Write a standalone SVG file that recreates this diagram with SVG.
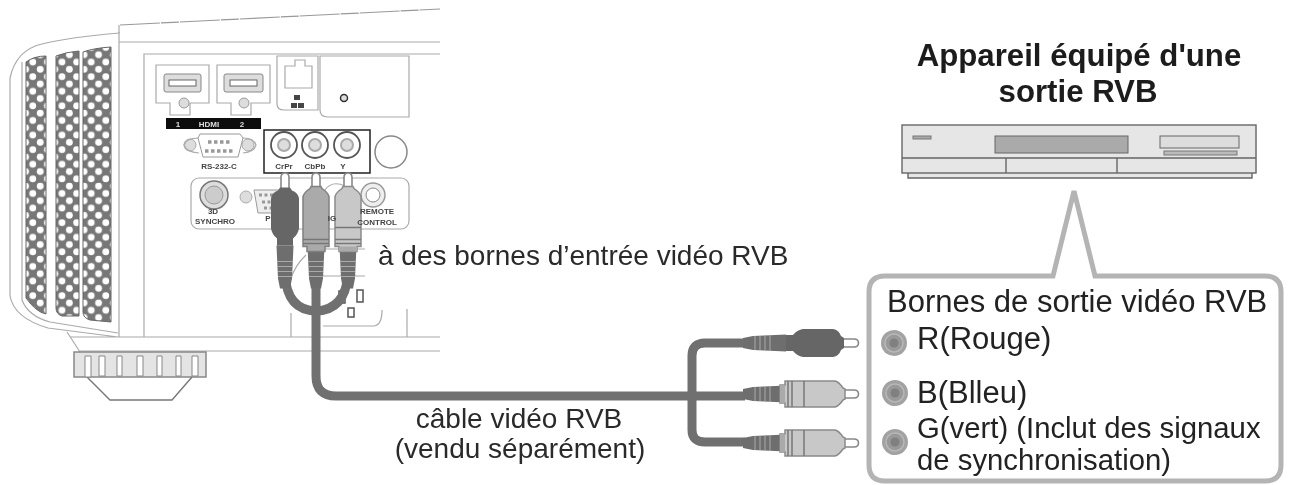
<svg xmlns="http://www.w3.org/2000/svg" width="1290" height="485" viewBox="0 0 1290 485">
<style>
text{font-family:"Liberation Sans",Arial,sans-serif;fill:#222}
.t{font-size:31px}
.m{font-size:28px;fill:#2a2a2a}
.n{font-size:29.300px}
.h{font-size:31.200px;font-weight:bold;text-anchor:middle;fill:#1c1c1c}
.s{font-size:8px;font-weight:bold;fill:#444;text-anchor:middle}
.l{fill:none;stroke:#aaa;stroke-width:1.200}
.d{fill:none;stroke:#777;stroke-width:1.400}
.cab{fill:none;stroke:#707070;stroke-width:9}
.dev{fill:#e6e6e6;stroke:#666;stroke-width:1.400}
</style>
<defs>
<filter id="b" x="-5%" y="-5%" width="110%" height="110%"><feGaussianBlur stdDeviation="0.6"/></filter>
<pattern id="hex" width="14.6" height="14.6" patternUnits="userSpaceOnUse">
<rect width="14.6" height="14.6" fill="#777"/>
<circle cx="3.6" cy="3.6" r="3.4" fill="#fff"/><circle cx="11" cy="10.9" r="3.4" fill="#fff"/>
</pattern>
<g id="jack"><circle r="13" fill="#a2a2a2"/><circle r="9" fill="#999" stroke="#b8b8b8" stroke-width="1.500"/><circle r="4.500" fill="#808080"/></g>
<g id="rca"><path d="M0 -5 L10 -7 L43 -8.500 L43 8.500 L10 7 L0 5Z" fill="#6e6e6e"/>
<path d="M12 -7V7M17 -7V7M22 -7V7M27 -8V8" stroke="#aaa" stroke-width="1"/>
<path d="M99 -4H111Q115.500 -4 115.500 0Q115.500 4 111 4H99Z" fill="#fff" stroke="#888" stroke-width="1.600"/></g>
<g id="body"><path d="M37 -9H42V-13H92Q96 -12 100 -6L102 -5V5L100 6Q96 12 92 13H42V9H37Z" fill="#c8c8c8" stroke="#8a8a8a" stroke-width="1.500"/><path d="M37 -9H42V9H37Z" fill="#aaa"/><path d="M45 -13V13M49 -13V13M61 -13V13" stroke="#777" stroke-width="1.500"/></g>
<g id="bodyd"><path d="M37 -9H42V-13H92Q96 -12 100 -6L102 -5V5L100 6Q96 12 92 13H42V9H37Z" fill="#aaa" stroke="#808080" stroke-width="1.500"/><path d="M45 -13V13M49 -13V13" stroke="#777" stroke-width="1.500"/></g>
<g id="black"><path d="M43 -8H50Q54 -13 60 -14H90Q96 -13 98 -7L101 -5V5L98 7Q96 13 90 14H60Q54 13 50 8H43Z" fill="#666"/></g>
</defs>

<g id="projector" filter="url(#b)">
<path d="M120 25L440 9" fill="none" stroke="#999" stroke-width="1.200" stroke-dasharray="40 1 18 1"/>
<path class="l" d="M120 33Q70 37 42 44Q16 50 10 78V296Q14 318 48 328L118 337M119 25V337M119 42H440M144 337V54H440M70 337H440M80 351H440"/>
<path class="l" d="M22 62V300Q28 316 50 322L118 333"/>
<path class="l" d="M67 332L80 352"/>
<path d="M26 62Q34 56 46 56V314Q36 312 26 298Z" fill="url(#hex)" stroke="#666"/>
<path d="M56 56Q66 52 79 51V316H62Q56 314 56 308Z" fill="url(#hex)" stroke="#666"/>
<path d="M83 52Q94 48 111 47V322L90 320Q83 318 83 312Z" fill="url(#hex)" stroke="#666"/>
<g id="foot">
<rect x="74" y="352" width="132" height="25" fill="#e4e4e4" stroke="#888" stroke-width="1.500"/>
<path class="d" d="M87 377L110 400H172L192 377"/>
<path d="M85 356h6v21h-6zM99 356h6v20h-6zM117 356h5v20h-5zM137 356h6v20h-6zM157 356h5v20h-5zM176 356h5v20h-5zM192 356h6v20h-6z" fill="#fff" stroke="#888"/>
</g>
<g id="hdmi1"><path class="l" d="M156 65H209V103H190V115H170V103H156Z"/><rect x="164" y="74" width="37" height="18" rx="2" fill="#ddd" stroke="#888"/><rect x="169" y="80" width="27" height="6" fill="#fff" stroke="#666"/><circle cx="184" cy="103" r="5" fill="#ddd" stroke="#999"/></g>
<g id="hdmi2"><path class="l" d="M217 65H270V103H251V115H231V103H217Z"/><rect x="224" y="74" width="39" height="18" rx="2" fill="#ddd" stroke="#888"/><rect x="230" y="80" width="27" height="6" fill="#fff" stroke="#666"/><circle cx="244" cy="103" r="5" fill="#ddd" stroke="#999"/></g>
<rect x="166" y="118" width="95" height="11" fill="#111"/>
<text x="178" y="126.500" class="s" style="fill:#ddd">1</text><text x="209" y="126.500" class="s" style="fill:#ddd">HDMI</text><text x="242" y="126.500" class="s" style="fill:#ddd">2</text>
<g id="lan"><path class="l" d="M277 56H318V110H284Q277 110 277 104Z"/><path class="l" d="M285 66H295V60H305V66H312V88H285Z"/><path d="M294 95h6v5h-6zM291 103h6v5h-6zM298 103h6v5h-6zM297 100v3" fill="#444"/></g>
<g id="panelr"><path class="l" d="M320 56H409V117H328Q320 117 320 110Z"/><circle cx="344" cy="98" r="3.500" fill="#ddd" stroke="#333" stroke-width="1.500"/></g>
<g id="rs232"><circle cx="190" cy="145" r="6" fill="#ddd" stroke="#aaa"/><circle cx="248" cy="145" r="6" fill="#ddd" stroke="#aaa"/>
<path d="M184 145Q186 138 199 138M243 138Q254 138 256 145Q254 152 243 153M199 153Q186 152 184 145" class="l"/>
<path d="M200 134H240L243 138L238 157H203L198 138Z" fill="#fff" stroke="#999"/>
<path d="M208 142h22M205 151h30" stroke="#999" stroke-width="3.500" stroke-dasharray="3.500 2.500"/>
<text x="219" y="169" class="s">RS-232-C</text></g>
<g id="rgbin"><rect x="264" y="130" width="106" height="43" fill="#fff" stroke="#222" stroke-width="1.500"/>
<circle cx="284" cy="145" r="13" fill="#fff" stroke="#555" stroke-width="1.800"/><circle cx="284" cy="145" r="6" fill="#ddd" stroke="#aaa" stroke-width="2"/>
<circle cx="315" cy="145" r="13" fill="#fff" stroke="#555" stroke-width="1.800"/><circle cx="315" cy="145" r="6" fill="#ddd" stroke="#aaa" stroke-width="2"/>
<circle cx="347" cy="145" r="13" fill="#fff" stroke="#555" stroke-width="1.800"/><circle cx="347" cy="145" r="6" fill="#ddd" stroke="#aaa" stroke-width="2"/>
<text x="284" y="169" class="s">CrPr</text><text x="315" y="169" class="s">CbPb</text><text x="343" y="169" class="s">Y</text></g>
<circle cx="391" cy="152" r="16" fill="#fff" stroke="#888" stroke-width="1.500"/>
<rect x="191" y="178" width="218" height="51" rx="8" class="l"/>
<g id="sync"><circle cx="214" cy="195" r="14" fill="#ddd" stroke="#777" stroke-width="1.500"/><circle cx="214" cy="195" r="9" fill="#ccc" stroke="#999"/>
<text x="213" y="214" class="s">3D</text><text x="215" y="224" class="s">SYNCHRO</text></g>
<g id="pc"><circle cx="246" cy="197" r="6" fill="#ddd" stroke="#aaa"/><path d="M254 190H285V213H258Z" fill="#eee" stroke="#999"/><path d="M259 195h22M262 202h20M264 208h16" stroke="#999" stroke-width="3" stroke-dasharray="3 2.500"/></g>
<path class="l" d="M325 190Q332 180 345 186" />
<g id="remote"><circle cx="373" cy="195" r="12" fill="#eee" stroke="#999" stroke-width="1.500"/><circle cx="373" cy="195" r="7" fill="#fff" stroke="#888"/></g>
<path class="l" d="M323 249H365M323 276H365M290 281Q295 265 306 255M291 313V337M323 326H374Q382 325 382 310M407 309V337"/>
<path d="M339 291h6v12h-6zM357 290h6v12h-6zM348 308h6v9h-6z" fill="#fff" stroke="#555" stroke-width="1.500"/>
</g>

<g id="connectors" filter="url(#b)">
<path class="cab" d="M285 250V275Q287 310 316 311Q345 310 348 275V250"/>
<path class="cab" d="M316 245V376Q316 396 336 396H745"/>
<path class="cab" d="M745 343H705Q692 343 692 356V430Q692 442 705 442H745"/>
<g id="vplugs">
<g transform="translate(285,288.500) rotate(-90)"><use href="#rca"/><use href="#black"/></g>
<g transform="translate(316,288.500) rotate(-90)"><use href="#rca"/><use href="#bodyd"/></g>
<g transform="translate(348,288.500) rotate(-90)"><use href="#rca"/><use href="#body"/></g>
</g>
<g id="hplugs">
<g transform="translate(743,343)"><use href="#rca"/><use href="#black"/></g>
<g transform="translate(743,394)"><use href="#rca"/><use href="#body"/></g>
<g transform="translate(743,443)"><use href="#rca"/><use href="#body"/></g>
</g>
</g>
<g id="panel-labels" filter="url(#b)">
<text x="268" y="221" class="s">P</text><text x="332" y="221" class="s">IG</text>
<text x="377" y="214" class="s">REMOTE</text><text x="377" y="225" class="s">CONTROL</text>
</g>

<g id="device" filter="url(#b)">
<path class="dev" d="M908 173V178H1252V173"/>
<rect class="dev" x="902" y="125" width="354" height="48"/>
<path d="M902 158H1256M1006 158V173M1117 158V173" stroke="#666" stroke-width="1.400"/>
<rect x="913" y="136" width="18" height="3" fill="#aaa" stroke="#777"/>
<rect x="995" y="136" width="133" height="17" fill="#aaa" stroke="#666"/>
<rect x="1160" y="136" width="79" height="12" fill="#ddd" stroke="#666"/>
<rect x="1164" y="151" width="73" height="4" fill="#bbb" stroke="#777"/>
</g>
<text class="h" x="1079" y="66">Appareil équipé d'une</text>
<text class="h" x="1078" y="102">sortie RVB</text>

<g id="callout">
<path d="M1053 276L1074 191L1095 276H1265Q1281 276 1281 292V465Q1281 481 1265 481H885Q869 481 869 465V292Q869 276 885 276Z" fill="#fff" stroke="#b4b4b4" stroke-width="5"/>
<text class="t" x="887" y="312">Bornes de sortie vidéo RVB</text>
<use href="#jack" x="894" y="343"/><text class="t" x="917" y="349">R(Rouge)</text>
<use href="#jack" x="895" y="393"/><text class="t" x="917" y="403">B(Blleu)</text>
<use href="#jack" x="895" y="442"/><text class="n" x="917" y="438">G(vert) (Inclut des signaux</text>
<text class="n" x="917" y="470">de synchronisation)</text>
</g>
<text class="m" x="378" y="265">à des bornes d’entrée vidéo RVB</text>
<text class="m" x="519" y="428" text-anchor="middle">câble vidéo RVB</text>
<text class="m" x="520" y="458" text-anchor="middle">(vendu séparément)</text>
</svg>
